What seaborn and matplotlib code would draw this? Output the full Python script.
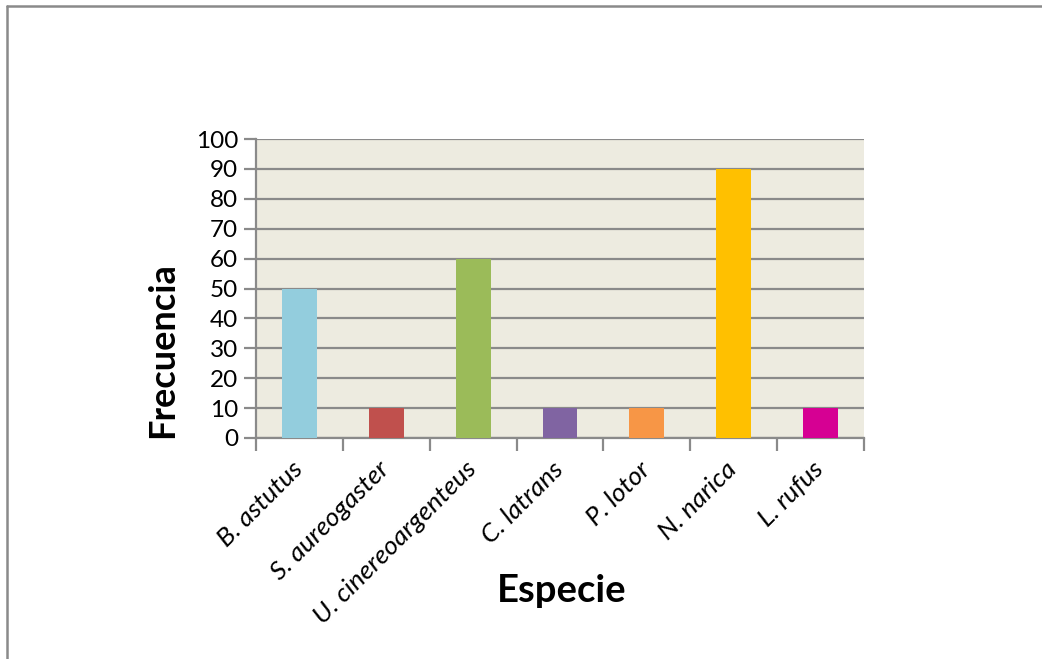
import matplotlib
matplotlib.use("Agg")
import matplotlib.pyplot as plt
import matplotlib.transforms as mtransforms
import seaborn as sns
import pandas as pd
from matplotlib.lines import Line2D

especies = ["B. astutus", "S. aureogaster", "U. cinereoargenteus", "C. latrans",
            "P. lotor", "N. narica", "L. rufus"]
frecuencia = [50, 10, 60, 10, 10, 90, 10]
colores = ["#93CDDD", "#C0504D", "#9BBB59", "#8064A2", "#F79646", "#FFC000", "#D60093"]
yticks = [0, 10, 20, 30, 40, 50, 60, 70, 80, 90, 100]

sns.set_theme(style="white")
plt.rcParams["font.family"] = ["Lato", "DejaVu Sans"]
plt.rcParams["text.color"] = "black"

df = pd.DataFrame({"Especie": especies, "Frecuencia": frecuencia})

W, H = 1042, 659
fig = plt.figure(figsize=(W / 100, H / 100), dpi=100)
ax = fig.add_axes([256 / W, 1 - 438 / H, (864 - 256) / W, (438 - 139) / H])

sns.barplot(data=df, x="Especie", y="Frecuencia", hue="Especie", palette=colores,
            legend=False, width=0.4, ax=ax, saturation=1, zorder=3, linewidth=0)

ax.set_facecolor("#EDEBE0")
ax.set_xlim(-0.5, len(especies) - 0.5)
ax.set_ylim(0, 100)
ax.set_yticks(yticks)
ax.set_yticklabels([str(v) for v in yticks], fontsize=17.5, color="black")
ax.yaxis.grid(True, color="#8A8A8A", linewidth=1.6, zorder=0)
ax.set_axisbelow(True)

for s in ["top", "right"]:
    ax.spines[s].set_visible(False)
for s in ["left", "bottom"]:
    ax.spines[s].set_color("#8A8A8A")
    ax.spines[s].set_linewidth(1.6)

ax.tick_params(axis="y", which="major", length=9, width=1.6, color="#8A8A8A", pad=4, left=True)
ax.set_xticks(range(len(especies)))
ax.set_xticklabels(especies, rotation=45, ha="right", rotation_mode="anchor",
                   fontsize=19, style="italic", color="black")
ax.tick_params(axis="x", which="major", length=0, pad=14)
offset = mtransforms.ScaledTranslation(-0.09, 0, fig.dpi_scale_trans)
for lbl in ax.get_xticklabels():
    lbl.set_transform(lbl.get_transform() + offset)
ax.set_xticks([i - 0.5 for i in range(len(especies) + 1)], minor=True)
ax.tick_params(axis="x", which="minor", length=9, width=1.6, color="#8A8A8A", bottom=True)

ax.set_xlabel("")
ax.set_ylabel("")
fig.text(562 / W, 1 - 591 / H, "Especie", fontsize=27.5, fontweight="bold",
         ha="center", va="center", color="black")
fig.text(163 / W, 1 - 350 / H, "Frecuencia", fontsize=26, fontweight="bold",
         rotation=90, ha="center", va="center", color="black")

# outer chart border (left and top)
fig.add_artist(Line2D([7 / W, 7 / W], [0, 1 - 6 / H], color="#8A8A8A", linewidth=1.8,
                      transform=fig.transFigure))
fig.add_artist(Line2D([7 / W, 1], [1 - 6 / H, 1 - 6 / H], color="#8A8A8A", linewidth=1.8,
                      transform=fig.transFigure))

fig.savefig("out.png", dpi=100)
